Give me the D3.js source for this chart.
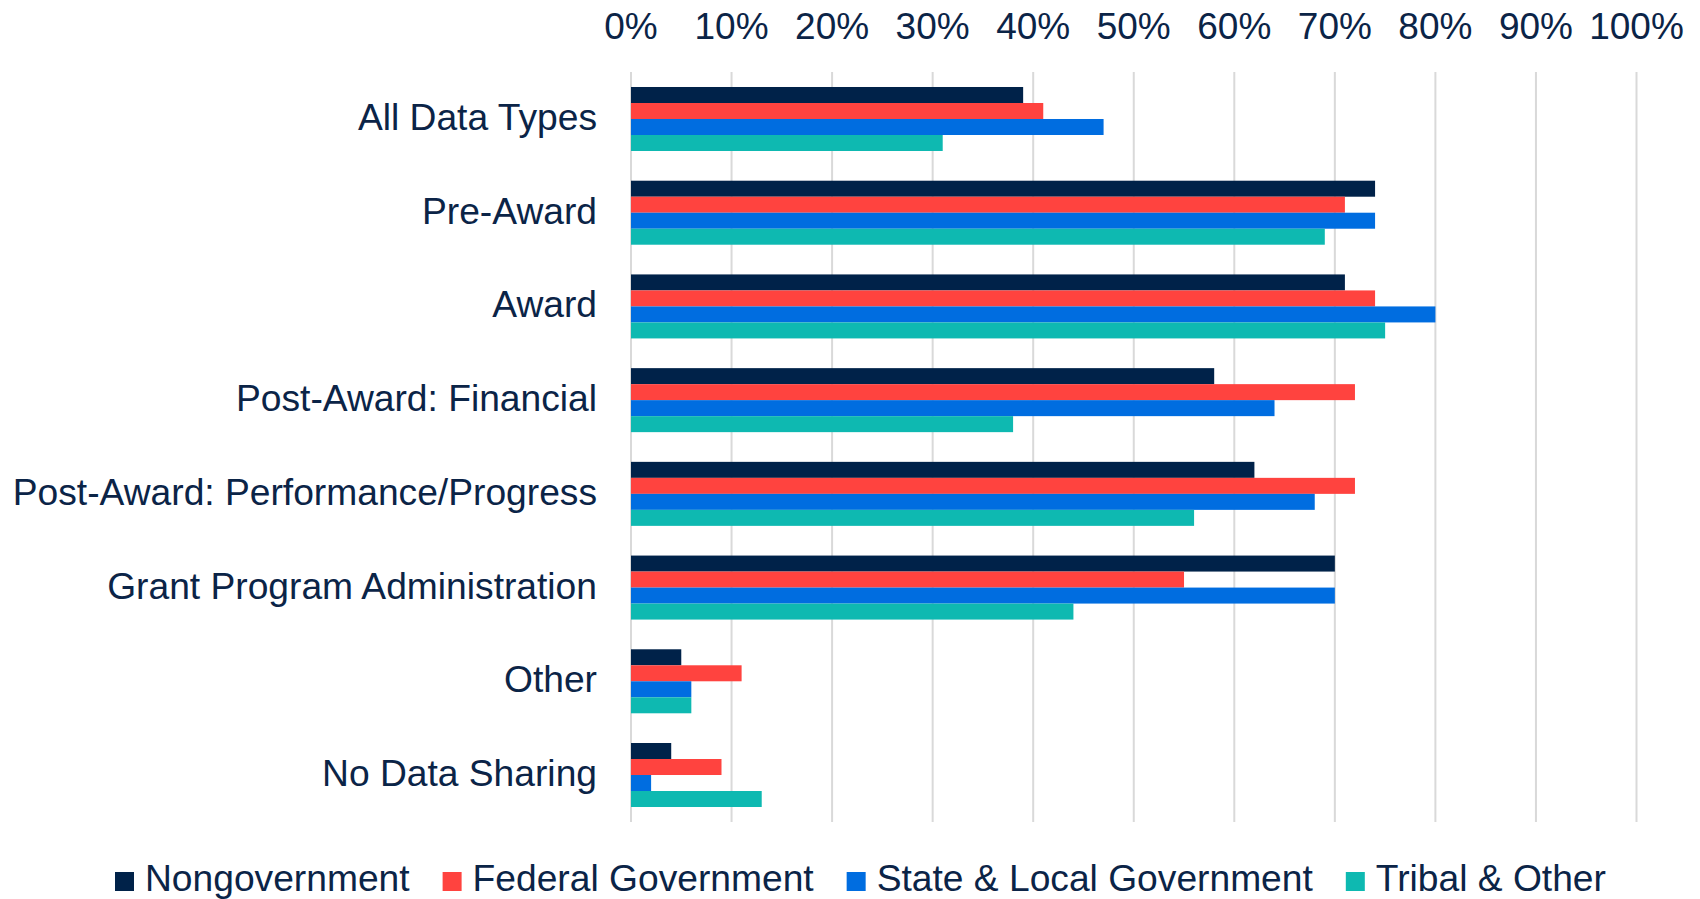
<!DOCTYPE html>
<html>
<head>
<meta charset="utf-8">
<script src="https://cdn.jsdelivr.net/npm/d3@7"></script>
<style>
  html, body { margin: 0; padding: 0; background: #fff; }
  #chart { width: 1700px; height: 899px; }
  text { font-family: "Liberation Sans", Arial, sans-serif; fill: #0b2447; }
</style>
</head>
<body>
<div id="chart"></div>
<script>
const categories = [
  "All Data Types",
  "Pre-Award",
  "Award",
  "Post-Award: Financial",
  "Post-Award: Performance/Progress",
  "Grant Program Administration",
  "Other",
  "No Data Sharing",
];
const seriesNames = [
  "Nongovernment",
  "Federal Government",
  "State & Local Government",
  "Tribal & Other",
];
const nongovernment = [39, 74, 71, 58, 62, 70, 5, 4];
const federalGovernment = [41, 71, 74, 72, 72, 55, 11, 9];
const stateLocalGovernment = [47, 74, 80, 64, 68, 70, 6, 2];
const tribalOther = [31, 69, 75, 38, 56, 44, 6, 13];
const tickValues = [0, 10, 20, 30, 40, 50, 60, 70, 80, 90, 100];
const colors = ["#002249", "#ff433f", "#006de0", "#0eb9b1"];

const seriesValues = [nongovernment, federalGovernment, stateLocalGovernment, tribalOther];

const width = 1700;
const height = 899;
const plot = { left: 631, right: 1636.5, top: 72, bottom: 822 };

const svg = d3
  .select("#chart")
  .append("svg")
  .attr("width", width)
  .attr("height", height)
  .attr("viewBox", `0 0 ${width} ${height}`);

const x = d3.scaleLinear().domain([0, 100]).range([plot.left, plot.right]);

const y = d3
  .scaleBand()
  .domain(categories)
  .range([plot.top, plot.bottom])
  .paddingInner(0.317)
  .paddingOuter(0.16);

const ySub = d3
  .scaleBand()
  .domain(seriesNames)
  .range([0, y.bandwidth()]);

// gridlines
svg
  .append("g")
  .selectAll("line")
  .data(tickValues)
  .join("line")
  .attr("x1", (d) => x(d))
  .attr("x2", (d) => x(d))
  .attr("y1", plot.top)
  .attr("y2", plot.bottom)
  .attr("stroke", "#d9d9d9")
  .attr("stroke-width", 2);

// top tick labels
svg
  .append("g")
  .selectAll("text")
  .data(tickValues)
  .join("text")
  .attr("x", (d) => x(d))
  .attr("y", 39)
  .attr("text-anchor", "middle")
  .style("font-size", "37px")
  .text((d) => `${d}%`);

// bars
const rows = categories.map((c, i) => ({
  category: c,
  values: seriesNames.map((s, j) => ({ series: s, value: seriesValues[j][i], idx: j })),
}));

svg
  .append("g")
  .selectAll("g")
  .data(rows)
  .join("g")
  .attr("transform", (d) => `translate(0,${y(d.category)})`)
  .selectAll("rect")
  .data((d) => d.values)
  .join("rect")
  .attr("x", x(0))
  .attr("y", (d) => ySub(d.series))
  .attr("width", (d) => x(d.value) - x(0))
  .attr("height", ySub.bandwidth())
  .attr("fill", (d) => colors[d.idx]);

// category labels
svg
  .append("g")
  .selectAll("text")
  .data(categories)
  .join("text")
  .attr("x", 597)
  .attr("y", (d) => y(d) + y.bandwidth() / 2 + 11)
  .attr("text-anchor", "end")
  .style("font-size", "37.2px")
  .text((d) => d);

// legend
const legend = svg.append("g");
let lx = 0;
seriesNames.forEach((name, i) => {
  const item = legend.append("g").attr("transform", `translate(${lx},0)`);
  item
    .append("rect")
    .attr("x", 0)
    .attr("y", 872)
    .attr("width", 19)
    .attr("height", 19)
    .attr("fill", colors[i]);
  const t = item
    .append("text")
    .attr("x", 30)
    .attr("y", 891)
    .style("font-size", "37.2px")
    .text(name);
  lx += 30 + t.node().getComputedTextLength() + 33;
});
const legendWidth = lx - 33;
legend.attr("transform", `translate(${Math.round(860 - legendWidth / 2)},0)`);
</script>
</body>
</html>
